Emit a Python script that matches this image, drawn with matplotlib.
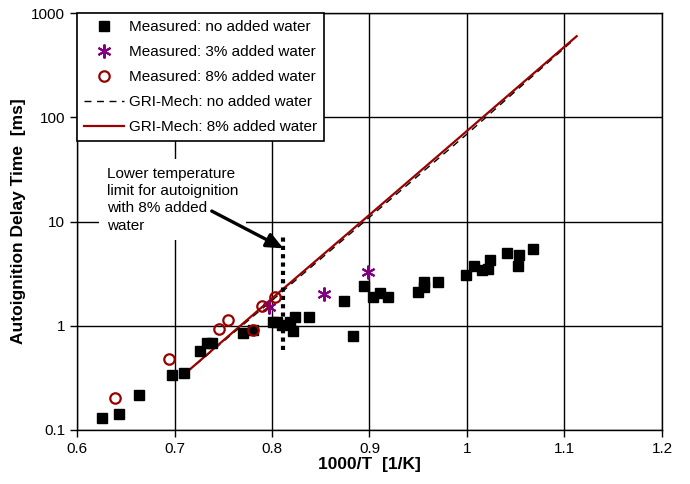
import matplotlib
matplotlib.use('Agg')
import matplotlib.pyplot as plt

plt.rcParams['font.family'] = ['Liberation Sans', 'DejaVu Sans']
plt.rcParams['font.size'] = 11

# measured, no added water
x_dry = [0.6256, 0.6431, 0.6636, 0.6974, 0.7097, 0.7262, 0.7333, 0.7385, 0.770,
         0.7805, 0.801, 0.805, 0.810, 0.8185, 0.8236, 0.8218, 0.8382, 0.8742,
         0.8834, 0.8944, 0.904, 0.9108, 0.9193, 0.9501, 0.9562, 0.9562, 0.9706,
         0.999, 1.0072, 1.0157, 1.0219, 1.0236, 1.0413, 1.0536, 1.0526, 1.068]
y_dry = [0.130, 0.142, 0.217, 0.337, 0.352, 0.573, 0.684, 0.684, 0.858,
         0.91, 1.09, 1.09, 1.02, 1.09, 1.22, 0.89, 1.22, 1.73,
         0.80, 2.41, 1.87, 2.05, 1.87, 2.12, 2.65, 2.37, 2.61,
         3.07, 3.74, 3.43, 3.48, 4.27, 4.95, 4.77, 3.74, 5.41]

# measured, 3% added water
x_w3 = [0.7972, 0.8533, 0.8981]
y_w3 = [1.50, 2.02, 3.30]

# measured, 8% added water
x_w8 = [0.639, 0.6947, 0.746, 0.7552, 0.7808, 0.7894, 0.8031]
y_w8 = [0.201, 0.477, 0.925, 1.135, 0.91, 1.55, 1.87]

# GRI-Mech predictions
gri_x0 = [0.712, 0.8, 0.9, 1.0, 1.11]
gri_y0 = [0.355, 1.75, 11.0, 69, 560]
gri_x8 = [0.715, 0.8, 0.9, 1.0, 1.1125]
gri_y8 = [0.376, 1.83, 11.6, 74, 600]

# lower temperature limit marker
limit_x = [0.8113, 0.8113]
limit_y = [0.585, 7.15]

red = '#990000'
purple = '#800080'

fig, ax = plt.subplots(figsize=(6.9, 4.84), dpi=100)
fig.subplots_adjust(left=0.1116, right=0.9594, top=0.973, bottom=0.1116)

ax.plot(x_dry, y_dry, 's', color='black', markersize=7, linestyle='none',
        label='Measured: no added water', zorder=4)
ax.plot(x_w3, y_w3, linestyle='none', marker=(6, 2, 0), color=purple,
        markersize=10, markeredgewidth=1.5, label='Measured: 3% added water', zorder=4)
ax.plot(x_w8, y_w8, 'o', color=red, markerfacecolor='none', markersize=7.5,
        markeredgewidth=1.6, linestyle='none', label='Measured: 8% added water', zorder=4)
ax.plot(gri_x0, gri_y0, color='black', linestyle=(0, (5, 4)), linewidth=1.0,
        label='GRI-Mech: no added water', zorder=3)
ax.plot(gri_x8, gri_y8, color=red, linewidth=1.6,
        label='GRI-Mech: 8% added water', zorder=3)

ax.plot(limit_x, limit_y, color='black', linestyle=(0, (1, 1)), linewidth=3,
        zorder=3)

ax.text(0.6305, 33.6, 'Lower temperature\nlimit for autoignition\nwith 8% added\nwater',
        ha='left', va='top', linespacing=1.3, zorder=5,
        bbox=dict(boxstyle='square,pad=0.5', facecolor='white', edgecolor='none'))
ax.annotate('', xy=(0.8116, 5.53), xytext=(0.7382, 12.6), zorder=6,
            arrowprops=dict(arrowstyle='-|>,head_length=0.9,head_width=0.4',
                            color='black', lw=2.4, shrinkA=0, shrinkB=0))

ax.set_yscale('log')
ax.set_xlim(0.6, 1.2)
ax.set_ylim(0.1, 1000)
ax.set_xticks([0.6, 0.7, 0.8, 0.9, 1.0, 1.1, 1.2])
ax.set_xticklabels(['0.6', '0.7', '0.8', '0.9', '1', '1.1', '1.2'])
ax.set_yticks([0.1, 1, 10, 100, 1000])
ax.set_yticklabels(['0.1', '1', '10', '100', '1000'])
ax.yaxis.set_minor_locator(matplotlib.ticker.NullLocator())
ax.tick_params(direction='out', length=5, width=1, color='black', labelsize=11)

ax.grid(True, which='major', color='black', linewidth=1)
ax.set_axisbelow(True)
for s in ax.spines.values():
    s.set_color('black')
    s.set_linewidth(1)

ax.set_xlabel('1000/T  [1/K]', fontweight='bold', fontsize=12.5, labelpad=1)
ax.set_ylabel('Autoignition Delay Time  [ms]', fontweight='bold', fontsize=12.5, labelpad=4)

leg = ax.legend(loc='upper left', borderaxespad=0, fancybox=False, framealpha=1,
                edgecolor='black', fontsize=11, handlelength=2.6,
                handletextpad=0.35, labelspacing=0.72, borderpad=0.45)
leg.get_frame().set_linewidth(1.2)
leg.set_zorder(6)

plt.savefig('out.png', dpi=100)
